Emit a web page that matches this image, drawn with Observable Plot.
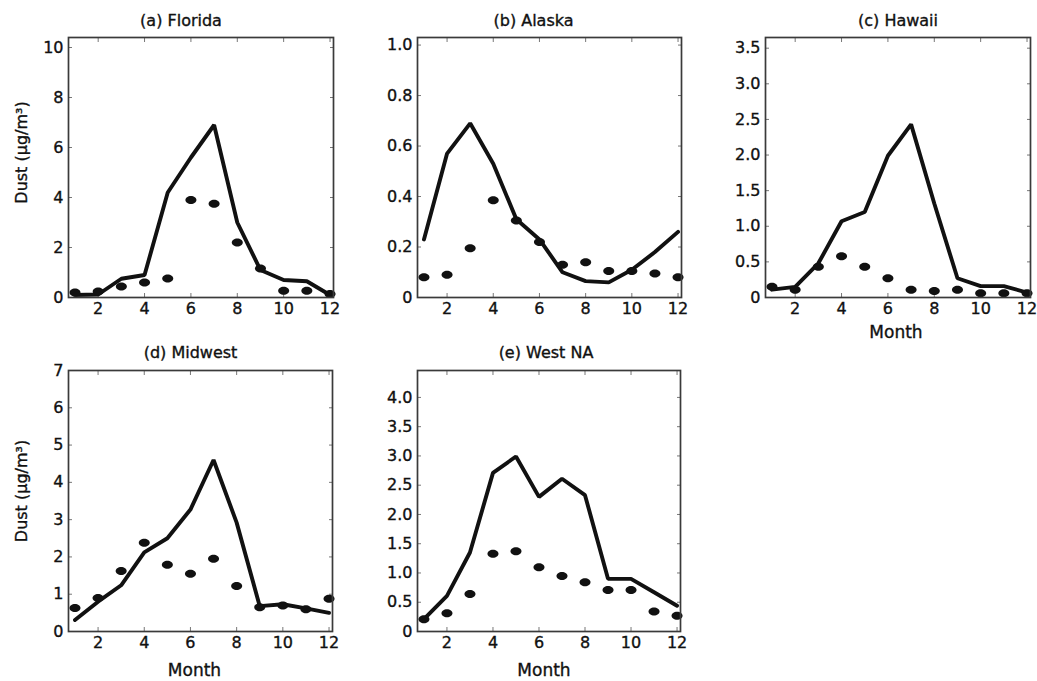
<!DOCTYPE html>
<html>
<head>
<meta charset="utf-8">
<script src="https://cdn.jsdelivr.net/npm/d3@7"></script>
<script src="https://cdn.jsdelivr.net/npm/@observablehq/plot@0.6"></script>
<style>
  html, body { margin: 0; padding: 0; background: #fff; }
  #fig { position: relative; width: 1037px; height: 681px; overflow: hidden; background: #fff; color: #111; }
  #fig > div { position: absolute; }
  /* slightly heavier lettering for all labels */
  #fig svg text { stroke: #111; stroke-width: 0.35px; }
</style>
</head>
<body>
<div id="fig"></div>
<script>
// Monthly dust concentration (µg/m³): model (line) vs. observations (dots)
const months = [1, 2, 3, 4, 5, 6, 7, 8, 9, 10, 11, 12];
const monthTicks = [2, 4, 6, 8, 10, 12];

const floridaModel = [0.1, 0.12, 0.75, 0.9, 4.2, 5.6, 6.9, 3.0, 1.1, 0.7, 0.65, 0.1];
const floridaObs   = [0.2, 0.24, 0.44, 0.6, 0.76, 3.9, 3.75, 2.2, 1.16, 0.27, 0.27, 0.14];

const alaskaModel = [0.23, 0.57, 0.69, 0.53, 0.31, 0.23, 0.1, 0.065, 0.06, 0.11, 0.18, 0.26];
const alaskaObs   = [0.08, 0.09, 0.195, 0.385, 0.305, 0.22, 0.13, 0.14, 0.105, 0.105, 0.095, 0.08];

const hawaiiModel = [0.11, 0.15, 0.48, 1.07, 1.2, 1.99, 2.43, 1.32, 0.27, 0.16, 0.16, 0.07];
const hawaiiObs   = [0.15, 0.11, 0.43, 0.58, 0.43, 0.27, 0.11, 0.09, 0.11, 0.06, 0.06, 0.06];

const midwestModel = [0.31, 0.8, 1.24, 2.12, 2.5, 3.27, 4.6, 2.92, 0.68, 0.73, 0.62, 0.5];
const midwestObs   = [0.63, 0.9, 1.62, 2.38, 1.79, 1.55, 1.95, 1.22, 0.65, 0.7, 0.6, 0.88];

const westModel = [0.21, 0.61, 1.35, 2.71, 2.99, 2.3, 2.61, 2.33, 0.9, 0.9, 0.67, 0.44];
const westObs   = [0.21, 0.31, 0.64, 1.33, 1.37, 1.1, 0.95, 0.84, 0.71, 0.71, 0.34, 0.27];

const ticksA = [0, 2, 4, 6, 8, 10];
const ticksB = [0, 0.2, 0.4, 0.6, 0.8, 1.0];
const ticksC = [0, 0.5, 1.0, 1.5, 2.0, 2.5, 3.0, 3.5];
const ticksD = [0, 1, 2, 3, 4, 5, 6, 7];
const ticksE = [0, 0.5, 1.0, 1.5, 2.0, 2.5, 3.0, 3.5, 4.0];

const yLabel = "Dust (µg/m³)";
const xLabel = "Month";
const FONT = "DejaVu Sans, sans-serif";

// Filled ellipse used for the observation markers
const ellipse = {
  draw(context, size) {
    const r = Math.sqrt(size / Math.PI);
    const rx = r * 1.38, ry = r, k = 0.5523;
    context.moveTo(rx, 0);
    context.bezierCurveTo(rx, ry * k, rx * k, ry, 0, ry);
    context.bezierCurveTo(-rx * k, ry, -rx, ry * k, -rx, 0);
    context.bezierCurveTo(-rx, -ry * k, -rx * k, -ry, 0, -ry);
    context.bezierCurveTo(rx * k, -ry, rx, -ry * k, rx, 0);
    context.closePath();
  }
};

const oneDecimal = d => d === 0 ? "0" : d.toFixed(1);
const integer = d => String(d);

function panel(cfg) {
  const rows = months.map((m, i) => ({month: m, model: cfg.model[i], obs: cfg.obs[i]}));
  const mL = 68, mT = 37, mR = cfg.mR ?? 8, mB = cfg.mB;
  const marks = [
    Plot.axisY({anchor: "left", ticks: cfg.yTicks, tickFormat: cfg.fmt, tickSize: -4, tickPadding: 9,
                fontSize: 16, stroke: "#777", color: "#111", label: null}),
    Plot.axisY({anchor: "right", ticks: cfg.yTicks, tickFormat: () => "", tickSize: -4, stroke: "#777", label: null}),
    Plot.axisX({anchor: "bottom", ticks: monthTicks, tickFormat: integer, tickSize: -4, tickPadding: 9,
                fontSize: 16, stroke: "#777", color: "#111", label: null}),
    Plot.axisX({anchor: "top", ticks: monthTicks, tickFormat: () => "", tickSize: -4, stroke: "#777", label: null}),
    Plot.line(rows, {x: "month", y: "model", stroke: "#111", strokeWidth: 3.9, strokeLinejoin: "miter"}),
    Plot.dot(rows, {x: "month", y: "obs", r: 4, symbol: ellipse, fill: "#111", stroke: "none"}),
    Plot.frame({stroke: "#3a3a3a", strokeWidth: 1.7}),
    Plot.text([cfg.title], {frameAnchor: "top", dx: cfg.titleDx, dy: cfg.titleDy, fontSize: 16,
                            lineAnchor: "middle", fill: "#111"})
  ];
  if (cfg.month) {
    marks.push(Plot.text([xLabel], {frameAnchor: "bottom", dx: cfg.monthDx, dy: cfg.monthDy, fontSize: 17,
                                    lineAnchor: "middle", fill: "#111"}));
  }
  if (cfg.dust) {
    marks.push(Plot.text([yLabel], {frameAnchor: "left", dx: -47, dy: cfg.dustDy, rotate: -90, fontSize: 16,
                                    lineAnchor: "middle", textAnchor: "middle", fill: "#111"}));
  }
  const chart = Plot.plot({
    width: mL + cfg.w + mR,
    height: mT + cfg.h + mB,
    marginLeft: mL, marginTop: mT, marginRight: mR, marginBottom: mB,
    style: {background: "transparent", fontFamily: FONT, overflow: "visible"},
    x: {domain: [0.72, 12.15], label: null},
    y: {domain: cfg.yDomain, label: null},
    marks
  });
  const holder = document.createElement("div");
  holder.style.left = (cfg.left - mL) + "px";
  holder.style.top = (cfg.top - mT) + "px";
  holder.appendChild(chart);
  document.getElementById("fig").appendChild(holder);
}

panel({title: "(a) Florida", model: floridaModel, obs: floridaObs, yDomain: [0, 10.4], yTicks: ticksA, fmt: integer,
       left: 68, top: 37, w: 265, h: 260, mB: 36, titleDx: -20, titleDy: -17, dust: true, dustDy: -15});
panel({title: "(b) Alaska", model: alaskaModel, obs: alaskaObs, yDomain: [0, 1.03], yTicks: ticksB, fmt: oneDecimal,
       left: 417, top: 37, w: 264, h: 260, mB: 36, titleDx: -16, titleDy: -17});
panel({title: "(c) Hawaii", model: hawaiiModel, obs: hawaiiObs, yDomain: [0, 3.65], yTicks: ticksC, fmt: oneDecimal,
       left: 765, top: 37, w: 265, h: 260, mR: 6, mB: 50, titleDx: 0, titleDy: -17,
       month: true, monthDx: -2, monthDy: 35});
panel({title: "(d) Midwest", model: midwestModel, obs: midwestObs, yDomain: [0, 7], yTicks: ticksD, fmt: integer,
       left: 68, top: 370, w: 264, h: 261, mB: 50, titleDx: -10, titleDy: -18, dust: true, dustDy: -10,
       month: true, monthDx: -6, monthDy: 39});
panel({title: "(e) West NA", model: westModel, obs: westObs, yDomain: [0, 4.46], yTicks: ticksE, fmt: oneDecimal,
       left: 417, top: 370, w: 263, h: 261, mB: 50, titleDx: -3, titleDy: -18,
       month: true, monthDx: -5, monthDy: 39});
</script>
</body>
</html>
